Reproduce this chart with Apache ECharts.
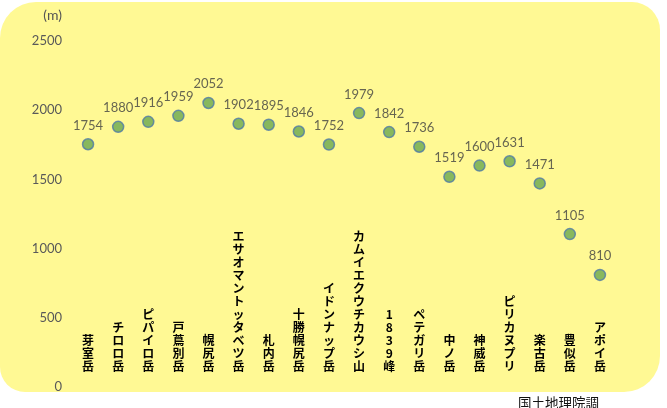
<!DOCTYPE html>
<html><head><meta charset="utf-8">
<script src="https://cdn.jsdelivr.net/npm/echarts@6/dist/echarts.min.js"></script>
<style>html,body{margin:0;padding:0;background:#fff}#c{width:667px;height:408px}</style>
</head><body><div id="c"></div>
<script>
const categories = ['芽室岳','チロロ岳','ピパイロ岳','戸蔦別岳','幌尻岳','エサオマントッタベツ岳','札内岳','十勝幌尻岳','イドンナップ岳','カムイエクウチカウシ山','1839峰','ペテガリ岳','中ノ岳','神威岳','ピリカヌプリ','楽古岳','豊似岳','アポイ岳'];
const heights = [1754,1880,1916,1959,2052,1902,1895,1846,1752,1979,1842,1736,1519,1600,1631,1471,1105,810];
const yTicks = {min:0, max:2500, interval:500};
const unitLabel = '(m)';
const sourceText = '国土地理院調';

const chart = echarts.init(document.getElementById('c'));
chart.setOption({
  backgroundColor:'#ffffff',
  animation:false,
  graphic:[{type:'rect', z:-10, shape:{x:0,y:2,width:660,height:390,r:[36,28,36,25]}, style:{fill:'#FFF994'}}],
  title:{text:sourceText, left:513, top:391, textStyle:{fontSize:13.5, fontWeight:'normal', color:'#111', fontFamily:'Noto Sans CJK JP'}},
  grid:{left:73, right:52, top:41, bottom:21},
  xAxis:{type:'category', data:categories, boundaryGap:true,
    axisLine:{show:false}, axisTick:{show:false}, splitLine:{show:false},
    axisLabel:{inside:true, interval:0, margin:14, color:'#000', fontSize:12, fontWeight:'bold', lineHeight:13,
      fontFamily:'Noto Sans CJK JP', formatter:v=>v.split('').join('\n')}},
  yAxis:{type:'value', min:yTicks.min, max:yTicks.max, interval:yTicks.interval,
    name:unitLabel, nameLocation:'end', nameGap:19,
    nameTextStyle:{color:'#555', fontSize:14, align:'right', padding:[0,11,0,0], fontFamily:'Lato'},
    axisLine:{show:false}, axisTick:{show:false}, splitLine:{show:false},
    axisLabel:{color:'#595959', fontSize:13, margin:11, fontFamily:'Lato', formatter:v=>String(v)}},
  series:[{type:'scatter', data:heights, symbolSize:11,
    itemStyle:{color:'#6AA84F', borderColor:'#4F79A8', borderWidth:1.5},
    label:{show:true, position:'top', distance:6, color:'#404040', fontSize:13, fontFamily:'Lato'}}]
});
</script></body></html>
